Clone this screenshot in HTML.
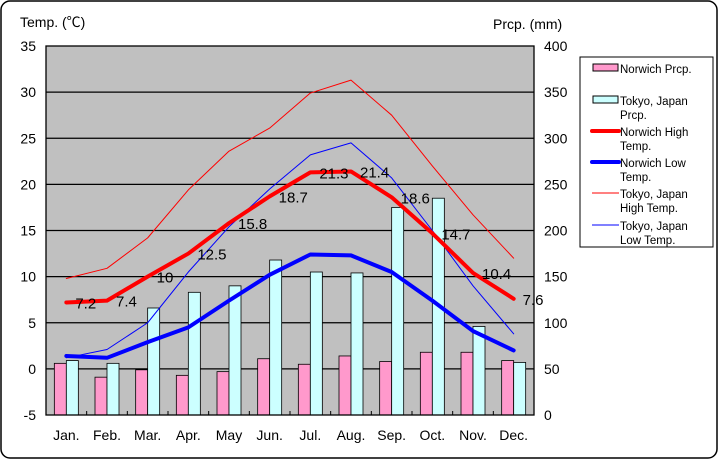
<!DOCTYPE html>
<html><head><meta charset="utf-8"><style>
html,body{margin:0;padding:0;background:#fff}
svg{display:block;font-family:"Liberation Sans","Noto Sans CJK JP",sans-serif}
</style></head><body>
<svg id="chart" width="720" height="460" viewBox="0 0 720 460">
<rect x="1" y="1" width="716" height="457" rx="9" fill="#fff" stroke="#000" stroke-width="1.5"/>
<rect x="46" y="46" width="488" height="369" fill="#c0c0c0"/>
<g id="grid"></g><g id="bars"></g><g id="lines"></g><g id="axes"></g>
<text x="20" y="27" font-size="14">Temp. (℃)</text>
<text x="493" y="29" font-size="14">Prcp. (mm)</text>
<g font-size="11.5">
<rect x="580" y="57" width="133" height="190" fill="#fff" stroke="#000"/>
<rect x="593" y="64" width="25" height="7" fill="#ff99cc" stroke="#000"/>
<text x="620" y="73">Norwich Prcp.</text>
<rect x="593" y="96" width="25" height="7" fill="#ccffff" stroke="#000"/>
<text x="620" y="105">Tokyo, Japan</text><text x="620" y="119">Prcp.</text>
<line x1="592" y1="131" x2="619" y2="131" stroke="#ff0000" stroke-width="4" stroke-linecap="round"/>
<text x="620" y="136">Norwich High</text><text x="620" y="150">Temp.</text>
<line x1="592" y1="162" x2="619" y2="162" stroke="#0000ff" stroke-width="4" stroke-linecap="round"/>
<text x="620" y="167">Norwich Low</text><text x="620" y="181">Temp.</text>
<line x1="592" y1="193" x2="619" y2="193" stroke="#ff0000" stroke-width="1"/>
<text x="620" y="198">Tokyo, Japan</text><text x="620" y="212">High Temp.</text>
<line x1="592" y1="225" x2="619" y2="225" stroke="#0000ff" stroke-width="1"/>
<text x="620" y="230">Tokyo, Japan</text><text x="620" y="244">Low Temp.</text>
</g>
</svg>
<script>
const months=["Jan.","Feb.","Mar.","Apr.","May","Jun.","Jul.","Aug.","Sep.","Oct.","Nov.","Dec."];
const norwichHigh=[7.2,7.4,10,12.5,15.8,18.7,21.3,21.4,18.6,14.7,10.4,7.6];
const norwichLow=[1.4,1.2,2.9,4.5,7.4,10.2,12.4,12.3,10.5,7.4,4.1,2.0];
const tokyoHigh=[9.8,10.9,14.2,19.4,23.6,26.1,29.9,31.3,27.5,22.0,16.7,12.0];
const tokyoLow=[1.2,2.1,5.0,10.5,15.4,19.5,23.2,24.5,20.7,15.0,9.0,3.8];
const norwichPrcp=[56,41,49,43,47,61,55,64,58,68,68,59];
const tokyoPrcp=[59,56,116,133,140,168,155,154,225,235,96,57];
const tempTicks=[-5,0,5,10,15,20,25,30,35];
const prcpTicks=[0,50,100,150,200,250,300,350,400];

const NS="http://www.w3.org/2000/svg";
const L=46,R=534,T=46,B=415;
const bw=(R-L)/12;
const xc=i=>L+bw*(i+0.5);
const yT=v=>B-(v+5)/40*(B-T);
const yP=v=>B-v/400*(B-T);
function mk(tag,attrs,parent){const e=document.createElementNS(NS,tag);for(const k in attrs)e.setAttribute(k,attrs[k]);document.getElementById(parent).appendChild(e);return e;}

tempTicks.forEach((t,i)=>{
  const y=yT(t);
  if(t>-5&&t<35){const g=mk('line',{x1:L,x2:R,y1:y,y2:y,stroke:'#000','stroke-width':1.3},'grid');
  
  }
  const tx=mk('text',{x:36,y:y+5,'font-size':14,'text-anchor':'end'},'axes');tx.textContent=t;
  
  
});
prcpTicks.forEach(p=>{
  const tx=mk('text',{x:544,y:yP(p)+5,'font-size':14},'axes');tx.textContent=p;
  
  
});
months.forEach((m,i)=>{
  const tx=mk('text',{x:xc(i),y:440,'font-size':14,'text-anchor':'middle'},'axes');tx.textContent=m;
  
  
  const tk=mk('line',{x1:L+bw*(i+1),x2:L+bw*(i+1),y1:B,y2:B-4,stroke:'#000'},'axes');
  
  
});
mk('rect',{x:L,y:T,width:R-L,height:B-T,fill:'none',stroke:'#000','stroke-width':1.3},'axes');

months.forEach((m,i)=>{
  const c=xc(i);
  const a=mk('rect',{x:c-12,y:yP(norwichPrcp[i]),width:12,height:B-yP(norwichPrcp[i]),fill:'#ff99cc',stroke:'#000','stroke-width':0.8},'bars');
  
  
  const b=mk('rect',{x:c,y:yP(tokyoPrcp[i]),width:12,height:B-yP(tokyoPrcp[i]),fill:'#ccffff',stroke:'#000','stroke-width':0.8},'bars');
  
  
});
function line(data,color,w,name){
  const p=mk('polyline',{points:data.map((v,i)=>xc(i)+','+yT(v)).join(' '),fill:'none',stroke:color,'stroke-width':w,'stroke-linejoin':'round','stroke-linecap':'round'},'lines');
  
  
}
line(tokyoHigh,'#ff0000',1,'line-tokyo-high');
line(tokyoLow,'#0000ff',1,'line-tokyo-low');
line(norwichHigh,'#ff0000',4,'line-norwich-high');
line(norwichLow,'#0000ff',4,'line-norwich-low');
norwichHigh.forEach((v,i)=>{
  const tx=mk('text',{x:xc(i)+9,y:yT(v)+6,'font-size':15},'lines');tx.textContent=v;
  
  
});
</script>
</body></html>
